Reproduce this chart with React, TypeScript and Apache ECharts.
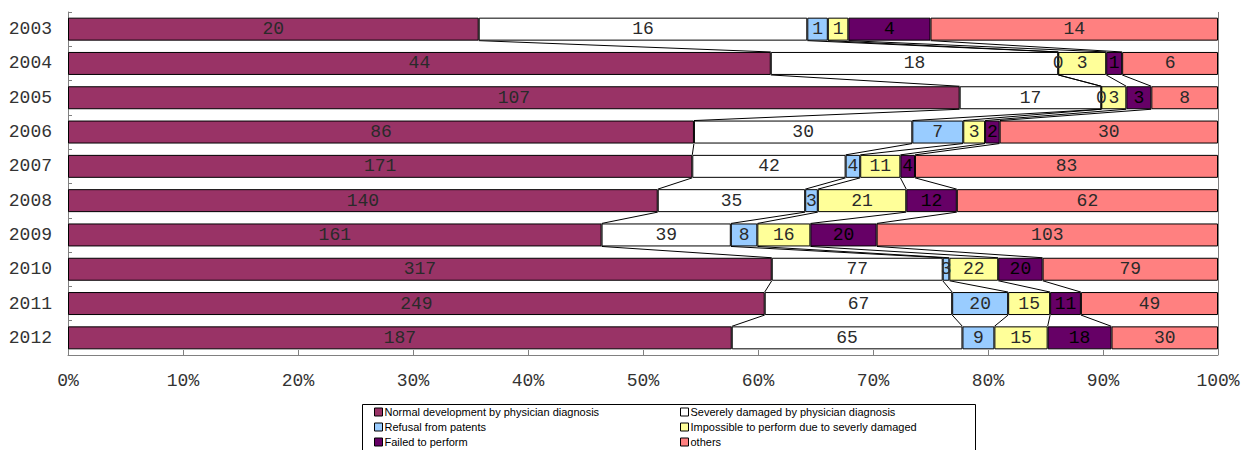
import React, { useEffect, useRef } from "react";
import * as echarts from "echarts";

const years = ["2003", "2004", "2005", "2006", "2007", "2008", "2009", "2010", "2011", "2012"];
const seriesNames = [
  "Normal development by physician diagnosis",
  "Severely damaged by physician diagnosis",
  "Refusal from patents",
  "Impossible to perform due to severly damaged",
  "Failed to perform",
  "others",
];
const normalDev = [20, 44, 107, 86, 171, 140, 161, 317, 249, 187];
const severelyDamaged = [16, 18, 17, 30, 42, 35, 39, 77, 67, 65];
const refusal = [1, 0, 0, 7, 4, 3, 8, 3, 20, 9];
const impossible = [1, 3, 3, 3, 11, 21, 16, 22, 15, 15];
const failed = [4, 1, 3, 2, 4, 12, 20, 20, 11, 18];
const others = [14, 6, 8, 30, 83, 62, 103, 79, 49, 30];
const colors = ["#993366", "#FFFFFF", "#99CCFF", "#FFFF99", "#660066", "#FF8080"];

const raw = [normalDev, severelyDamaged, refusal, impossible, failed, others];
const totals = years.map((_, i) => raw.reduce((s, arr) => s + arr[i], 0));
const pct = raw.map((arr) => arr.map((v, i) => (v / totals[i]) * 100));

const GAP = 0.33;

export default function App() {
  const ref = useRef<HTMLDivElement>(null);
  useEffect(() => {
    const chart = echarts.init(ref.current!, undefined, { renderer: "svg" });
    const monoFont = "'Liberation Mono', 'DejaVu Sans Mono', monospace";
    const legendFont = "'Liberation Sans', Arial, sans-serif";

    // series lines: boundaries between consecutive years
    const lineData: number[][] = [];
    for (let i = 0; i < years.length - 1; i++) {
      let c1 = 0;
      let c2 = 0;
      for (let k = 0; k < 5; k++) {
        c1 += pct[k][i];
        c2 += pct[k][i + 1];
        lineData.push([c1, i, c2, i + 1]);
      }
    }

    const barSeries: any[] = pct.map((arr, si) => ({
      name: seriesNames[si],
      type: "bar",
      stack: "total",
      barCategoryGap: GAP * 100 + "%",
      data: arr,
      itemStyle: { color: colors[si], borderColor: "#000", borderWidth: 1 },
      label: {
        show: true,
        position: "inside",
        color: si === 4 ? "#000" : "#2a2a2a",
        textBorderWidth: 0,
        fontFamily: monoFont,
        fontSize: 18,
        formatter: (p: any) => String(raw[si][p.dataIndex]),
      },
      ...(si === 5
        ? {
            markLine: {
              silent: true,
              symbol: "none",
              label: { show: false },
              lineStyle: { color: "#808080", width: 1, type: "solid" },
              data: [{ xAxis: 100 }],
            },
          }
        : {}),
    }));

    const legendCommon = {
      orient: "vertical",
      top: 405,
      itemWidth: 8,
      itemHeight: 8,
      itemGap: 1,
      padding: 0,
      icon: "rect",
      itemStyle: { borderColor: "#000", borderWidth: 1 },
      textStyle: { fontFamily: legendFont, fontSize: 11, color: "#000", lineHeight: 14, padding: [0, 0, 0, -3] },
    };

    const option: any = {
      animation: false,
      grid: { left: 68, right: 36, top: 12, bottom: 95, containLabel: false },
      xAxis: {
        type: "value",
        min: 0,
        max: 100,
        interval: 10,
        axisLine: { show: true, lineStyle: { color: "#808080" } },
        axisTick: { show: true, inside: true, length: 5, lineStyle: { color: "#808080" } },
        splitLine: { show: false },
        axisLabel: {
          formatter: (v: number) => v + "%",
          fontFamily: monoFont,
          fontSize: 18,
          color: "#333",
          margin: 17,
        },
      },
      yAxis: {
        type: "category",
        data: years,
        inverse: true,
        axisLine: { show: true, lineStyle: { color: "#808080" } },
        axisTick: { show: true, inside: true, length: 4, lineStyle: { color: "#808080" } },
        axisLabel: { fontFamily: monoFont, fontSize: 18, color: "#333", margin: 16 },
      },
      legend: [
        { ...legendCommon, left: 374, data: [seriesNames[0], seriesNames[2], seriesNames[4]] },
        { ...legendCommon, left: 680, data: [seriesNames[1], seriesNames[3], seriesNames[5]] },
      ],
      graphic: [
        {
          type: "rect",
          shape: { x: 362.5, y: 404.5, width: 613, height: 60 },
          style: { fill: "none", stroke: "#000", lineWidth: 1 },
          silent: true,
        },
      ],
      series: [
        ...barSeries,
        {
          type: "custom",
          name: "serieslines",
          coordinateSystem: "cartesian2d",
          encode: { x: [0, 2], y: [1, 3] },
          data: lineData,
          silent: true,
          renderItem: (params: any, api: any) => {
            const p1 = api.coord([api.value(0), api.value(1)]);
            const p2 = api.coord([api.value(2), api.value(3)]);
            const band = api.size([0, 1])[1];
            const half = (band * (1 - GAP)) / 2;
            return {
              type: "line",
              shape: { x1: p1[0], y1: p1[1] + half, x2: p2[0], y2: p2[1] - half },
              style: { stroke: "#000", lineWidth: 1 },
            };
          },
        },
      ],
    };
    chart.setOption(option);
    return () => chart.dispose();
  }, []);
  return <div ref={ref} style={{ width: 1254, height: 450, position: "absolute", left: 0, top: 0 }} />;
}
